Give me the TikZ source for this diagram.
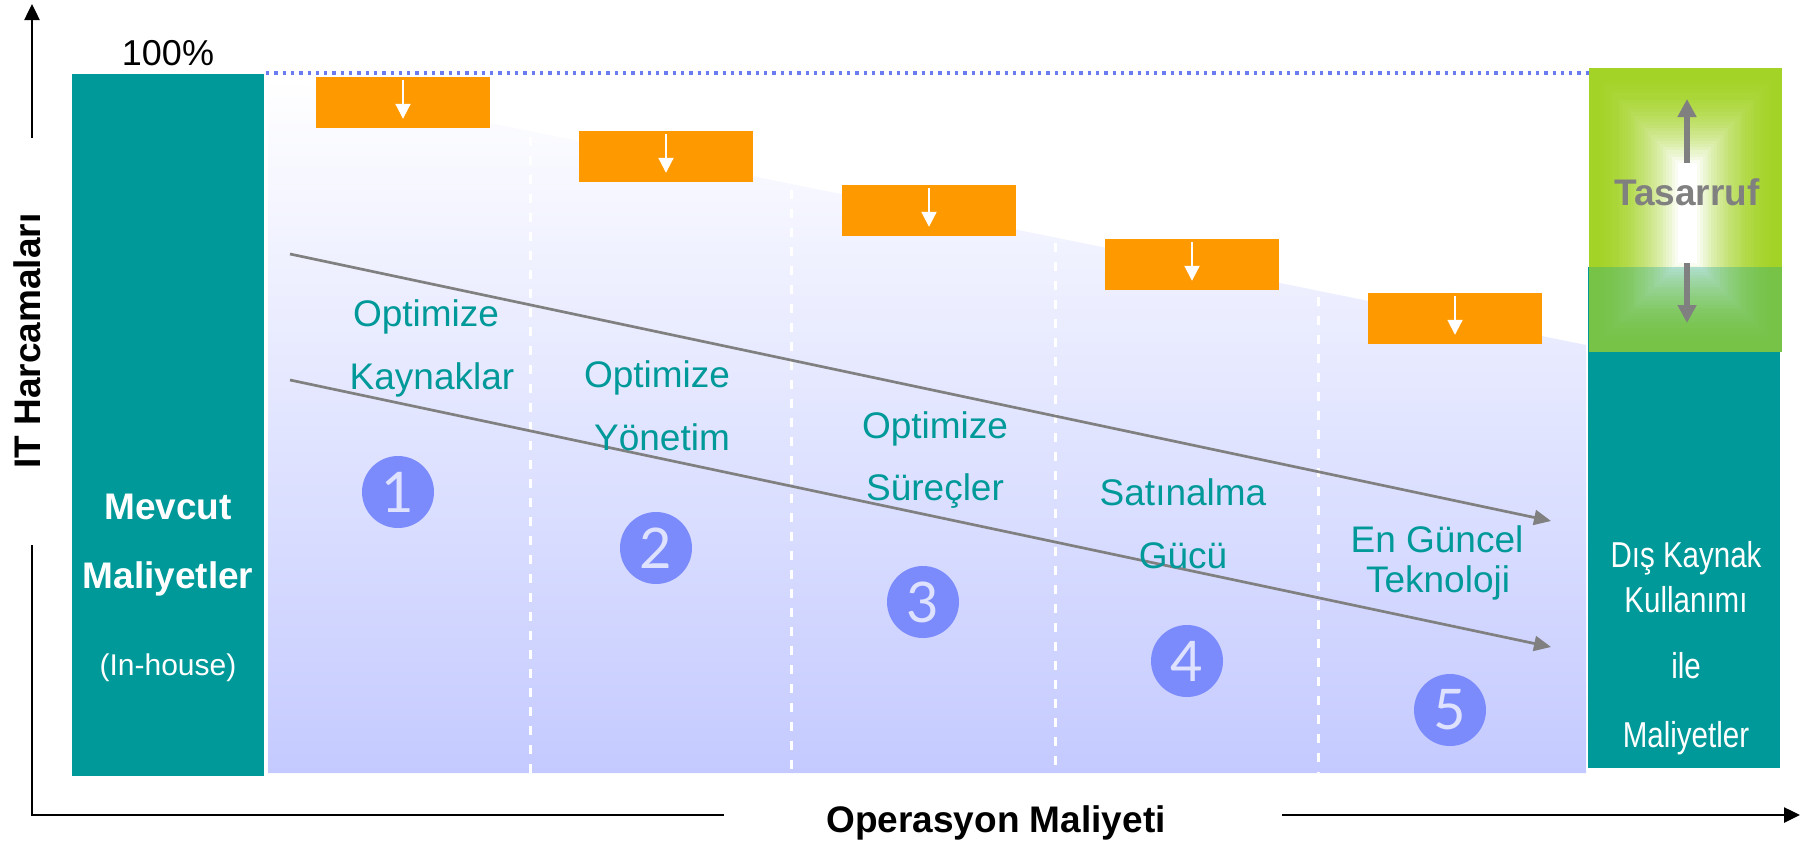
\documentclass[tikz,border=0pt]{standalone}
\usepackage{fontspec}
\setmainfont{Liberation Sans}
\newfontfamily\narrowfont[FakeStretch=0.82]{Liberation Sans}
\newfontfamily\numfont{Lato}
\usepackage{xcolor}
\usetikzlibrary{arrows.meta, positioning, calc}

\definecolor{costteal}{RGB}{0,153,153}
\definecolor{cutorange}{RGB}{255,153,0}
\definecolor{lavender}{RGB}{196,202,255}
\definecolor{numblue}{RGB}{123,139,252}
\definecolor{numtext}{RGB}{222,226,255}
\definecolor{dotblue}{RGB}{105,125,240}
\definecolor{trendgray}{RGB}{128,128,128}
\definecolor{glowgreen}{RGB}{164,211,40}
\newcommand{\fsz}[1]{\fontsize{#1}{#1}\selectfont}

\begin{document}
\begin{tikzpicture}[x=1pt, y=-1pt,
    costbox/.style={fill=costteal, inner sep=0pt},
    cutbox/.style={fill=cutorange, minimum width=174pt, minimum height=51pt, inner sep=0pt},
    cutarrow/.style={white, line width=2pt, -{Triangle[length=15pt,width=15pt]}},
    steplabel/.style={text=costteal, font=\fsz{37}, anchor=base},
    stepnum/.style={circle, fill=numblue, minimum size=72pt, inner sep=0pt, text=numtext, font=\numfont\fsz{56}},
    trend/.style={trendgray, line width=2.7pt, -{Triangle[length=17pt,width=15pt]}},
    savearrow/.style={trendgray, line width=6pt, -{Triangle[length=18pt,width=18pt]}},
    axis/.style={black, line width=2.5pt},
    axisarrow/.style={axis, -{Triangle[length=16pt,width=15pt]}},
    boxtext/.style={white, font=\fsz{37}, anchor=base},
  ]
  \useasboundingbox (0,0) rectangle (1819,844);

  % area under the cost slope
  \shade[top color=white, bottom color=lavender]
    (268,78) -- (1586,345) -- (1586,773) -- (268,773) -- cycle;
  \foreach \x in {530,791,1055,1318} {
    \pgfmathsetmacro{\ytop}{84+(\x-268)*0.2026}
    \draw[white, line width=3pt, dash pattern=on 9pt off 10pt] (\x,\ytop) -- (\x,773);
  }
  \draw[dotblue, line width=3.3pt, dash pattern=on 3.3pt off 5pt] (266,73) -- (1589,73);

  % cost bars
  \node[costbox, minimum width=192pt, minimum height=702pt] (mevcut) at (168,425) {};
  \node[costbox, minimum width=192pt, minimum height=501pt] (dis) at (1684,517.5) {};

  % savings glow
  \begin{scope}
    \clip (1589,68) rectangle (1782,267);
    \foreach \i in {0,...,30} {
      \pgfmathsetmacro{\t}{\i/30}
      \pgfmathtruncatemacro{\p}{100*\t*\t}
      \fill[white!\p!glowgreen] (1589+89*\t,68+95*\t) rectangle (1782-85*\t,352-89*\t);
    }
  \end{scope}
  \begin{scope}
    \clip (1589,267) rectangle (1782,352);
    \foreach \i in {0,...,30} {
      \pgfmathsetmacro{\t}{\i/30}
      \pgfmathtruncatemacro{\p}{100*\t*\t}
      \fill[white!\p!glowgreen!72!costteal] (1589+89*\t,68+95*\t) rectangle (1782-85*\t,352-89*\t);
    }
  \end{scope}
  \coordinate (glowtop) at (1687,163);
  \coordinate (glowbot) at (1687,263);
  \coordinate (uptip) at (1687,99);
  \coordinate (downtip) at (1687,323);
  \draw[savearrow] (glowtop) -- (uptip);
  \draw[savearrow] (glowbot) -- (downtip);
  \node[font=\bfseries\fsz{37}, text=trendgray, anchor=base] (tasarruf) at (1687,205) {Tasarruf};

  % reduction boxes
  \foreach \k in {1,...,5} {
    \node[cutbox] (cut\k) at (140+263*\k,48.5+54*\k) {};
    \draw[cutarrow] ([yshift=-3pt]cut\k.north) -- ++(0,39);
  }

  % trend arrows
  \coordinate (trend1s) at (290,254);
  \coordinate (trend1e) at (1551,521);
  \coordinate (trend2s) at (290,380);
  \coordinate (trend2e) at (1551,647);
  \draw[trend] (trend1s) -- (trend1e);
  \draw[trend] (trend2s) -- (trend2e);

  % step labels
  \node[steplabel] (opt1a) at (426,326) {Optimize};
  \node[steplabel] (opt1b) at (432,389) {Kaynaklar};
  \node[steplabel] (opt2a) at (657,387) {Optimize};
  \node[steplabel] (opt2b) at (662,450) {Yönetim};
  \node[steplabel] (opt3a) at (935,438) {Optimize};
  \node[steplabel] (opt3b) at (935,500) {Süreçler};
  \node[steplabel] (opt4a) at (1183,505) {Satınalma};
  \node[steplabel] (opt4b) at (1183,568) {Gücü};
  \node[steplabel] (opt5a) at (1437,552) {En Güncel};
  \node[steplabel] (opt5b) at (1438,592) {Teknoloji};

  \foreach \n/\x/\y in {1/398/492, 2/656/548, 3/923/602, 4/1187/661, 5/1450/710}
    \node[stepnum] (num\n) at (\x,\y) {\n};

  % bar texts
  \node[font=\fsz{36}, anchor=base] (pct) at (168,65) {100\%};
  \node[boxtext, font=\bfseries\fsz{37}] (mev1) at (168,519) {Mevcut};
  \node[boxtext, font=\bfseries\fsz{37}] (mev2) at (168,588) {Maliyetler};
  \node[boxtext, font=\fsz{30}] (mev3) at (168,675) {(In-house)};
  \node[boxtext, font=\narrowfont\fsz{36}] (dis1) at (1686,567) {Dış Kaynak};
  \node[boxtext, font=\narrowfont\fsz{36}] (dis2) at (1686,612) {Kullanımı};
  \node[boxtext, font=\narrowfont\fsz{36}] (dis3) at (1686,678) {ile};
  \node[boxtext, font=\narrowfont\fsz{36}] (dis4) at (1686,747) {Maliyetler};

  % axes
  \coordinate (ybottom) at (32,138);
  \coordinate (ytip) at (32,4);
  \coordinate (ylow) at (32,545);
  \coordinate (origin) at (32,815);
  \coordinate (xend) at (724,815);
  \coordinate (xstart) at (1282,815);
  \coordinate (xtip) at (1800,815);
  \draw[axisarrow] (ybottom) -- (ytip);
  \draw[axis] (ylow) -- (origin) -- (xend);
  \draw[axisarrow] (xstart) -- (xtip);
  \node[rotate=90, font=\bfseries\fsz{37}] (ylabel) at (27.5,341) {IT Harcamaları};
  \node[font=\bfseries\fsz{37}, anchor=base] (xlabel) at (996,832) {Operasyon Maliyeti};
\end{tikzpicture}
\end{document}
